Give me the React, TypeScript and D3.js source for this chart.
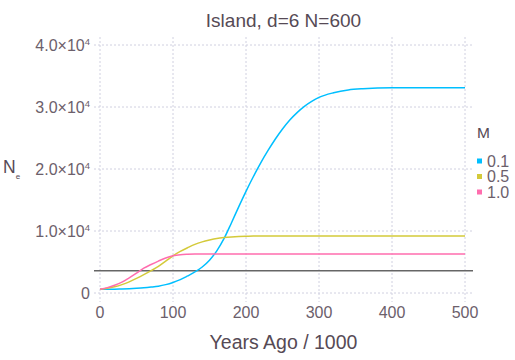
import * as d3 from "d3";

const years = [0, 10, 20, 30, 40, 50, 60, 70, 80, 90, 100, 110, 120, 130, 140, 150, 160, 170, 180, 190, 200, 210, 220, 230, 240, 250, 260, 270, 280, 290, 300, 320, 340, 360, 400, 450, 500];

const ne01 = [600, 605, 620, 650, 690, 750, 830, 950, 1100, 1350, 1700, 2150, 2750, 3400, 4200, 5300, 6800, 8800, 11300, 13900, 16400, 18750, 20950, 22950, 24800, 26450, 27900, 29100, 30100, 30900, 31550, 32300, 32750, 32950, 33100, 33100, 33100];
const ne05 = [600, 750, 1000, 1350, 1800, 2350, 2950, 3600, 4300, 5150, 6000, 6700, 7300, 7850, 8250, 8550, 8800, 8950, 9050, 9120, 9160, 9180, 9200, 9200, 9200, 9200, 9200, 9200, 9200, 9200, 9200, 9200, 9200, 9200, 9200, 9200, 9200];
const ne10 = [600, 870, 1250, 1750, 2450, 3200, 4000, 4600, 5150, 5650, 6000, 6180, 6250, 6280, 6290, 6300, 6300, 6300, 6300, 6300, 6300, 6300, 6300, 6300, 6300, 6300, 6300, 6300, 6300, 6300, 6300, 6300, 6300, 6300, 6300, 6300, 6300];

const migration = ["0.1", "0.5", "1.0"];
const colors = ["#00BFFF", "#D4CA3A", "#FF6DAE"];
const series = [ne01, ne05, ne10];
const reference = 3600; // d * N

const xTicks = [0, 100, 200, 300, 400, 500];
const yTicks = [0, 10000, 20000, 30000, 40000];

const font = "'Liberation Sans', Arial, sans-serif";
const labelColor = "#564A55";
const tickColor = "#6C606B";

export default function App() {
  const width = 515, height = 360;
  const left = 94, right = 473, top = 37, bottom = 302;

  const x = d3.scaleLinear().domain([0, 500]).range([100, 465]);
  const y = d3.scaleLinear().domain([0, 40000]).range([293, 45]);

  const line = d3.line<number>()
    .x((_, i) => x(years[i]))
    .y(d => y(d))
    .curve(d3.curveMonotoneX);

  return (
    <svg width={width} height={height} style={{ position: "absolute", left: 0, top: 0, background: "#fff" }}
      fontFamily={font}>
      {xTicks.map(t => (
        <line key={"gx" + t} x1={x(t)} x2={x(t)} y1={top} y2={bottom}
          stroke="#D0D0E0" strokeWidth={1} strokeDasharray="2,2" />
      ))}
      {yTicks.map(t => (
        <line key={"gy" + t} x1={left} x2={right} y1={y(t)} y2={y(t)}
          stroke="#D0D0E0" strokeWidth={1} strokeDasharray="2,2" />
      ))}

      <line x1={left} x2={right} y1={y(reference)} y2={y(reference)} stroke="#666" strokeWidth={1.4} />

      {series.map((s, i) => (
        <path key={migration[i]} d={line(s) || ""} fill="none" stroke={colors[i]} strokeWidth={1.5} />
      ))}

      {xTicks.map(t => (
        <text key={"tx" + t} x={x(t)} y={318} textAnchor="middle" fontSize={16} fill={tickColor}>{t}</text>
      ))}
      {yTicks.map(t => (
        t === 0
          ? <text key={"ty" + t} x={90} y={y(t) + 5.5} textAnchor="end" fontSize={16} fill={tickColor}>0</text>
          : <text key={"ty" + t} x={90} y={y(t) + 5.5} textAnchor="end" fontSize={16} fill={tickColor}>
              {(t / 10000).toFixed(1)}×10<tspan fontSize={9.5} dy={-5.5}>4</tspan>
            </text>
      ))}

      <text x={(left + right) / 2} y={27} textAnchor="middle" fontSize={19} fill={labelColor}>Island, d=6 N=600</text>
      <text x={(left + right) / 2} y={349} textAnchor="middle" fontSize={19.5} fill={labelColor}>Years Ago / 1000</text>
      <text x={3} y={173} fontSize={17.5} fill={labelColor}>N<tspan fontSize={8} dy={6}>e</tspan></text>

      <text x={477} y={138} fontSize={15.5} fill={labelColor}>M</text>
      {migration.map((m, i) => (
        <g key={m} transform={`translate(477,${161 + i * 15.5})`}>
          <rect x={0} y={-2.5} width={5} height={5} fill={colors[i]} />
          <text x={10} y={5.5} fontSize={16} fill={tickColor}>{m}</text>
        </g>
      ))}
    </svg>
  );
}
